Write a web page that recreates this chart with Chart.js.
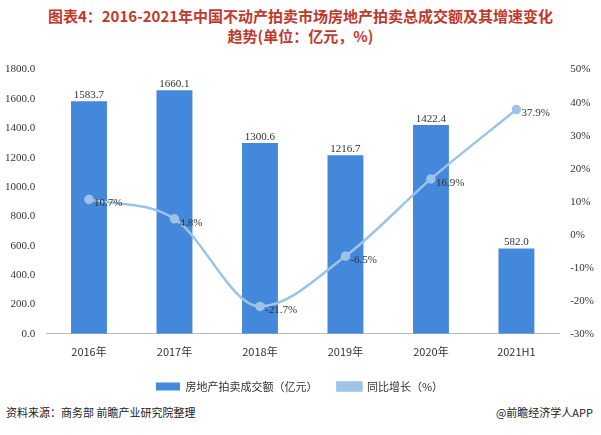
<!DOCTYPE html>
<html><head><meta charset="utf-8">
<script src="https://cdn.jsdelivr.net/npm/chart.js@4"></script>
<style>
body{margin:0;background:#fff;font-family:"Noto Sans CJK SC",sans-serif;}
#wrap{position:relative;width:601px;height:435px;}
#title{position:absolute;top:6px;left:0;width:601px;text-align:center;color:#c0392b;font-weight:bold;font-size:15px;line-height:20px;}
#cv{position:absolute;top:60px;left:0;}
#src{position:absolute;left:6px;top:404px;font-size:11px;color:#222;}
#app{position:absolute;right:8px;top:404px;font-size:11px;color:#222;}
</style></head><body>
<div id="wrap">
<div id="title">图表4：2016-2021年中国不动产拍卖市场房地产拍卖总成交额及其增速变化<br>趋势(单位：亿元，%)</div>
<canvas id="cv" width="601" height="342"></canvas>
<div id="src">资料来源：商务部 前瞻产业研究院整理</div>
<div id="app">@前瞻经济学人APP</div>
</div>
<script>
var categories = ['2016年','2017年','2018年','2019年','2020年','2021H1'];
var amount = [1583.7, 1660.1, 1300.6, 1216.7, 1422.4, 582.0];
var growth = [10.7, 4.8, -21.7, -6.5, 16.9, 37.9];

// 自己画数据标签
var labelPlugin = {
  id: 'labels',
  afterDatasetsDraw: function(chart){
    var ctx = chart.ctx;
    ctx.save();
    ctx.font = '11px "Liberation Serif", serif';
    ctx.fillStyle = '#333';
    ctx.textAlign = 'center';
    chart.getDatasetMeta(1).data.forEach(function(el, i){
      ctx.fillText(amount[i].toFixed(1), el.x, el.y - 6);
    });
    ctx.textAlign = 'left';
    chart.getDatasetMeta(0).data.forEach(function(el, i){
      ctx.fillText(growth[i].toFixed(1) + '%', el.x + 5, el.y + 4);
    });
    ctx.restore();
  }
};

new Chart(document.getElementById('cv'), {
  data: {
    labels: categories,
    datasets: [{
      type: 'line', label: '同比增长（%）', data: growth, yAxisID: 'y1',
      borderColor: '#9dc3e6', backgroundColor: '#9dc3e6', borderWidth: 2.5,
      pointRadius: 3.5, pointStyle: 'circle', cubicInterpolationMode: 'monotone', order: 0
    }, {
      type: 'bar', label: '房地产拍卖成交额（亿元）', data: amount, yAxisID: 'y',
      backgroundColor: '#4388db', barPercentage: 0.42, categoryPercentage: 1, order: 1
    }]
  },
  options: {
    responsive: false, animation: false,
    layout: {padding: {left: 2, right: 4, top: 6}},
    plugins: {
      legend: {position: 'bottom', reverse: true,
        labels: {boxWidth: 24, boxHeight: 8, padding: 20, color: '#333',
          font: {size: 11, family: '"Noto Sans CJK SC"'}}},
      tooltip: {enabled: false}
    },
    scales: {
      x: {grid: {display: false}, border: {color: '#bbb'},
        ticks: {color: '#333', font: {size: 11, family: '"Noto Sans CJK SC"'}}},
      y: {min: 0, max: 1800, grid: {display: false}, border: {display: false},
        ticks: {stepSize: 200, color: '#333', font: {size: 11, family: '"Liberation Serif"'},
          callback: function(v){ return v.toFixed(1); }}},
      y1: {position: 'right', min: -30, max: 50, grid: {display: false}, border: {display: false},
        ticks: {stepSize: 10, color: '#333', font: {size: 11, family: '"Liberation Serif"'},
          callback: function(v){ return v + '%'; }}}
    }
  },
  plugins: [labelPlugin]
});
</script>
</body></html>
